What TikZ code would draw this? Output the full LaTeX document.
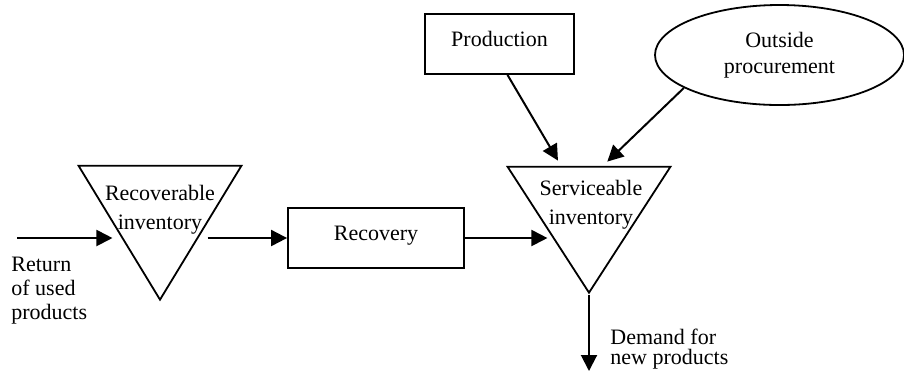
\documentclass[tikz,border=0pt]{standalone}
\usepackage{fontspec}
\setmainfont{Liberation Serif}
\usetikzlibrary{arrows.meta,shapes.geometric}
\tikzset{
  rlbox/.style={draw=black, line width=0.9pt, font=\fontsize{11}{13}\selectfont,
    inner sep=0pt, minimum width=88pt, minimum height=30pt, text depth=5pt},
  rlinv/.style={isosceles triangle, isosceles triangle stretches, shape border rotate=270,
    draw=black, line width=0.9pt, inner sep=0pt, minimum width=81.5pt},
  rlsrc/.style={ellipse, draw=black, line width=0.9pt, align=center,
    font=\fontsize{11}{13}\selectfont, inner sep=0pt, minimum width=124.5pt, minimum height=50pt},
  rltext/.style={align=center, inner sep=0pt, font=\fontsize{11}{14.5}\selectfont},
  rlnote/.style={align=left, inner sep=0pt, font=\fontsize{11}{12}\selectfont},
  rlarrow/.style={-{Triangle[length=8pt,width=8pt]}, line width=1pt}
}
\begin{document}
\begin{tikzpicture}[x=0.5pt,y=-0.5pt]
  \useasboundingbox (0,0) rectangle (904,372);
  % stocks
  \node[rlinv, minimum height=67pt, anchor=apex] (recinv) at (160,302) {};
  \node[rlinv, minimum height=63pt, anchor=apex] (servinv) at (589,295) {};
  \node[rltext, anchor=north] (rectxt) at (160,185) {Recoverable\\inventory};
  \node[rltext, anchor=north] (sertxt) at (591,180) {Serviceable\\inventory};
  % processes
  \node[rlbox] (recovery) at (376,238) {Recovery};
  \node[rlbox, minimum width=74.5pt] (production) at (499.5,44) {Production};
  \node[rlsrc] (outside) at (779.5,55) {Outside\\procurement};
  % flows in and out
  \coordinate (retin) at (17,238);
  \coordinate (demout) at (589,371);
  \node[rlnote, anchor=north west] (rettxt) at (11,257) {Return\\of used\\products};
  \node[rlnote, anchor=north west, font=\fontsize{11}{10}\selectfont] (demtxt) at (610,329) {Demand for\\new products};
  \draw[rlarrow, shorten >=3pt] (retin) -- (retin -| recinv.right side);
  \draw[rlarrow, shorten <=3pt] (recovery.west -| recinv.left side) -- (recovery.west);
  \draw[rlarrow] (recovery.east) -- (recovery.east -| servinv.right side);
  \draw[rlarrow, shorten >=3pt] ([xshift=4pt]production.south) -- ([xshift=-14pt]servinv.north);
  \draw[rlarrow, shorten >=3pt] (outside.199) -- ([xshift=7pt]servinv.north);
  \draw[rlarrow] (servinv.apex) -- (demout);
\end{tikzpicture}
\end{document}
